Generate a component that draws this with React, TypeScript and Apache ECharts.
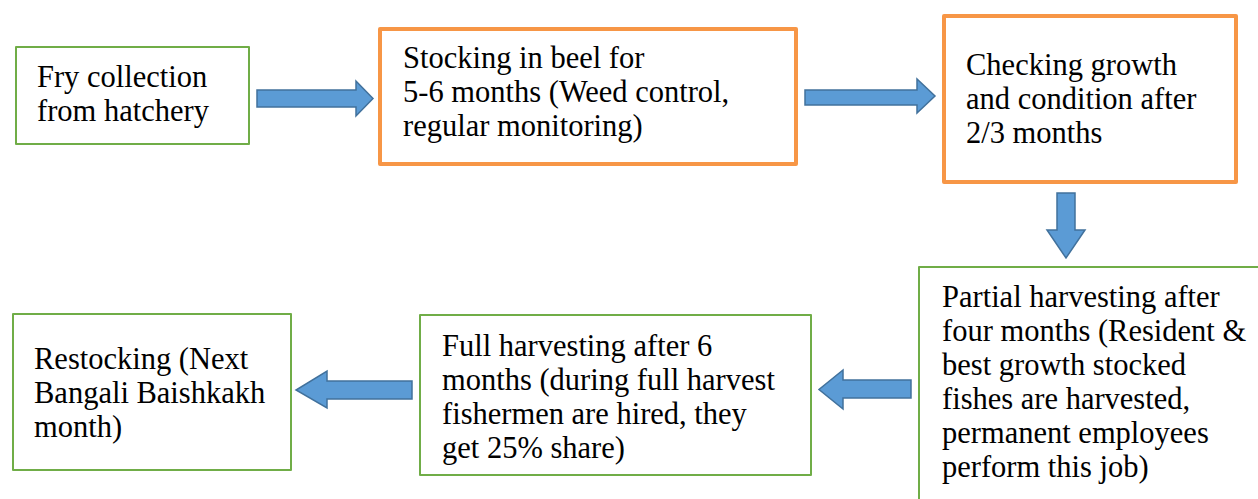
import React, { useEffect, useRef } from "react";
import * as echarts from "echarts";

// Step labels (content)
const stepTexts: string[][] = [
  ["Fry collection", "from hatchery"],
  ["Stocking in beel for", "5-6 months (Weed control,", "regular monitoring)"],
  ["Checking growth", "and condition after", "2/3 months"],
  [
    "Partial harvesting after",
    "four months (Resident &",
    "best growth stocked",
    "fishes are harvested,",
    "permanent employees",
    "perform this job)",
  ],
  [
    "Full harvesting after 6",
    "months (during full harvest",
    "fishermen are hired, they",
    "get 25% share)",
  ],
  ["Restocking (Next", "Bangali Baishkakh", "month)"],
];
const stepKinds: string[] = ["green", "orange", "orange", "green", "green", "green"];

// Layout (pixels)
const boxRects: number[][] = [
  [16, 47, 233, 97],
  [380, 29, 416, 135],
  [944, 16, 292, 166],
  [919, 267, 400, 300],
  [420, 315, 391, 160],
  [13, 314, 278, 156],
];
const textStarts: number[][] = [
  [37, 77],
  [403, 58],
  [966, 65],
  [942, 297],
  [442, 346],
  [34, 359],
];
const arrowPolys: number[][][] = [
  [[257, 90], [356, 90], [356, 81], [373, 98.5], [356, 116], [356, 107], [257, 107]],
  [[805, 90], [917, 90], [917, 79], [935, 96], [917, 113], [917, 105], [805, 105]],
  [[1057, 193], [1075, 193], [1075, 230], [1085, 230], [1066, 258], [1047, 230], [1057, 230]],
  [[911, 380], [843, 380], [843, 370], [819, 389.5], [843, 409], [843, 398], [911, 398]],
  [[412, 381], [327, 381], [327, 371], [296, 390], [327, 408], [327, 399], [412, 399]],
];

const GREEN = "#70ad47";
const ORANGE = "#f79646";
const LINE_H = 34;

export default function App() {
  const ref = useRef<HTMLDivElement>(null);
  useEffect(() => {
    document.body.style.margin = "0";
    if (!ref.current) return;
    const chart = echarts.init(ref.current, null, { renderer: "svg" });
    const elements: any[] = [];
    boxRects.forEach((r, i) => {
      const orange = stepKinds[i] === "orange";
      elements.push({
        type: "rect",
        shape: { x: r[0], y: r[1], width: r[2], height: r[3] },
        style: {
          fill: "#ffffff",
          stroke: orange ? ORANGE : GREEN,
          lineWidth: orange ? 4 : 2,
          lineJoin: "round",
        },
      });
    });
    stepTexts.forEach((lines, i) => {
      const [x, cy] = textStarts[i];
      lines.forEach((ln, j) => {
        elements.push({
          type: "text",
          x,
          y: cy + j * LINE_H,
          style: {
            text: ln,
            fill: "#000000",
            fontFamily: "Liberation Serif",
            fontSize: 30.5,
            textAlign: "left",
            textVerticalAlign: "middle",
          },
        });
      });
    });
    arrowPolys.forEach((pts) => {
      elements.push({
        type: "polygon",
        shape: { points: pts },
        style: { fill: "#5b9bd5", stroke: "#41719c", lineWidth: 1.5, lineJoin: "miter" },
      });
    });
    chart.setOption({
      animation: false,
      backgroundColor: "#ffffff",
      graphic: { elements },
    });
    return () => chart.dispose();
  }, []);
  return <div ref={ref} style={{ width: 1258, height: 499 }} />;
}
